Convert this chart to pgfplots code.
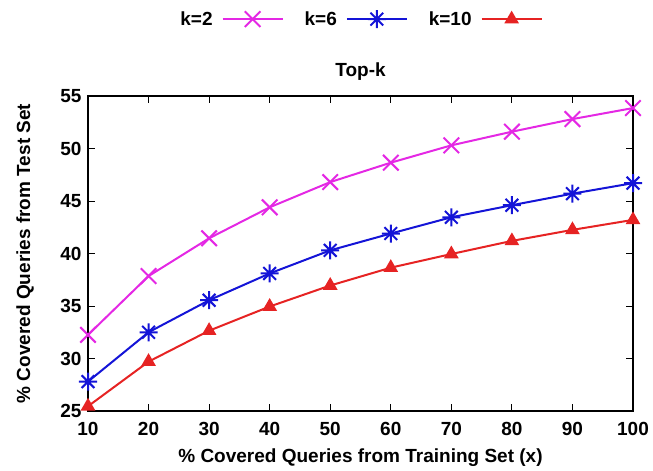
\documentclass[border=0pt]{standalone}
\usepackage{fontspec}
\setmainfont{Liberation Sans}
\usepackage{pgfplots}
\pgfplotsset{compat=1.18}
\usetikzlibrary{calc}
\definecolor{cmag}{RGB}{228,40,228}
\definecolor{cblue}{RGB}{20,20,215}
\definecolor{cred}{RGB}{230,35,35}
\pgfdeclareplotmark{starx}{%
  \pgfpathmoveto{\pgfqpoint{-\pgfplotmarksize}{0pt}}\pgfpathlineto{\pgfqpoint{\pgfplotmarksize}{0pt}}%
  \pgfpathmoveto{\pgfqpoint{0pt}{-\pgfplotmarksize}}\pgfpathlineto{\pgfqpoint{0pt}{\pgfplotmarksize}}%
  \pgfpathmoveto{\pgfqpoint{-.70710678\pgfplotmarksize}{-.70710678\pgfplotmarksize}}\pgfpathlineto{\pgfqpoint{.70710678\pgfplotmarksize}{.70710678\pgfplotmarksize}}%
  \pgfpathmoveto{\pgfqpoint{-.70710678\pgfplotmarksize}{.70710678\pgfplotmarksize}}\pgfpathlineto{\pgfqpoint{.70710678\pgfplotmarksize}{-.70710678\pgfplotmarksize}}%
  \pgfusepathqstroke}
\begin{document}
\begin{tikzpicture}
\begin{axis}[
  scale only axis, width=545pt, height=315pt,
  xmin=10, xmax=100, ymin=25, ymax=55,
  xtick={10,20,...,100}, ytick={25,30,...,55},
  tick align=inside, major tick length=7pt,
  tick style={line width=1pt, black},
  axis line style={line width=1.6pt},
  font=\fontsize{19}{22}\selectfont\bfseries,
  /pgf/number format/assume math mode=true,
  ticklabel style={font=\fontsize{19}{22}\selectfont\bfseries},
  xticklabel style={yshift=-8pt},
  yticklabel style={xshift=-3pt},
  title={Top-k},
  title style={at={(axis description cs:0.5,1)}, anchor=base, yshift=13pt},
  xlabel={\% Covered Queries from Training Set (x)},
  ylabel={\% Covered Queries from Test Set},
  xlabel style={at={(axis description cs:0.5,-0.149)}, anchor=center},
  ylabel style={at={(axis description cs:-0.1156,0.5)}, anchor=center},
  legend columns=3,
  legend plot pos=right,
  legend style={at={(axis description cs:0.5,1.244)}, anchor=center, draw=none, fill=none,
    font=\fontsize{19}{22}\selectfont\bfseries,
    /tikz/every odd column/.append style={column sep=7pt},
    /tikz/every even column/.append style={column sep=19pt}},
  legend image code/.code={\draw[mark repeat=2,mark phase=2] plot coordinates {(0pt,0pt)(30pt,0pt)(60pt,0pt)};},
  every axis plot/.append style={line width=2pt},
]
\addplot[cmag, mark=x, mark size=11pt] coordinates {
(10,32.25) (20,37.85) (30,41.45) (40,44.4) (50,46.8) (60,48.65) (70,50.3) (80,51.6) (90,52.8) (100,53.85)};
\addlegendentry{k=2}
\addplot[cblue, mark=starx, mark size=9pt] coordinates {
(10,27.8) (20,32.5) (30,35.55) (40,38.1) (50,40.3) (60,41.9) (70,43.45) (80,44.6) (90,45.7) (100,46.7)};
\addlegendentry{k=6}
\addplot[cred, mark=triangle*, mark size=6.5pt] coordinates {
(10,25.45) (20,29.7) (30,32.65) (40,34.95) (50,36.95) (60,38.65) (70,39.95) (80,41.2) (90,42.25) (100,43.2)};
\addlegendentry{k=10}
\coordinate (sw) at (rel axis cs:0,0);
\coordinate (ne) at (rel axis cs:1,1);
\end{axis}
\pgfresetboundingbox
\path (sw) ++(-88pt,-59pt) rectangle ($(ne)+(20pt,96pt)$);
\end{tikzpicture}
\end{document}
